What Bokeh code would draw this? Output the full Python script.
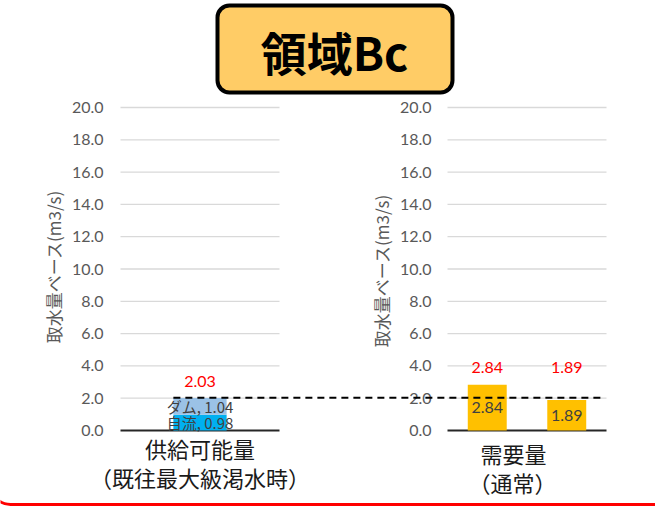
import numpy as np
from bokeh.plotting import figure
from bokeh.models import Range1d, BoxAnnotation
from bokeh.core.properties import value
from bokeh.embed import file_html
from bokeh.resources import INLINE

# ---------------- data ----------------
title_text = "領域Bc"
y_axis_title = "取水量ベース(m3/s)"
y_ticks = [0.0, 2.0, 4.0, 6.0, 8.0, 10.0, 12.0, 14.0, 16.0, 18.0, 20.0]
y_tick_labels = ["0.0", "2.0", "4.0", "6.0", "8.0", "10.0", "12.0", "14.0", "16.0", "18.0", "20.0"]

supply_category = ["供給可能量", "（既往最大級渇水時）"]
supply_series = ["自流", "ダム"]
supply_values = [0.98, 1.04]
supply_total = [2.03]

demand_category = ["需要量", "（通常）"]
demand_values = [2.84, 1.89]

# ---------------- layout (window pixel geometry) ----------------
W, H = 655, 506
OFF = 0
PX_ZERO = 430.0
PX_PER_UNIT = 16.15


def yv(py):
    """window pixel row -> value units"""
    return (PX_ZERO - py) / PX_PER_UNIT


LEFT_AREA = (120, 279)
RIGHT_AREA = (447, 606)
LEFT_TICK_X, RIGHT_TICK_X = 103, 431
LEFT_TITLE_X, RIGHT_TITLE_X = 53, 381

GRID_COLOR = "#D9D9D9"
TICK_COLOR = "#595959"
LABEL_COLOR = "#404040"
NUM_FONT = value("Lato")
JP_FONT = value("Noto Sans CJK JP")

p = figure(width=W, height=H,
           x_range=Range1d(OFF, OFF + W),
           y_range=Range1d(yv(OFF + H), yv(OFF)),
           output_backend="svg", toolbar_location=None,
           x_axis_location=None, y_axis_location=None,
           min_border=0, outline_line_color=None,
           background_fill_color="white", border_fill_color="white")
p.xgrid.visible = False
p.ygrid.visible = False

# ---------------- title box (underlay so the text sits on top) ----------------
p.add_layout(BoxAnnotation(left=217, right=452, top=yv(5), bottom=yv(92),
                           fill_color="#FFCC66", fill_alpha=1.0,
                           line_color="black", line_alpha=1.0, line_width=4,
                           border_radius=12, level="underlay"))
p.text(x=[334], y=[yv(50)], text=[title_text],
       text_align="center", text_baseline="middle",
       text_font=JP_FONT, text_font_style="bold",
       text_font_size=value("46px"), text_color="black")


def draw_value_axis(area, tick_x, title_x, title_py):
    a, b = area
    g = y_ticks[1:]
    p.segment(x0=[a] * len(g), x1=[b] * len(g), y0=g, y1=g,
              line_color=GRID_COLOR, line_width=1.3)
    p.segment(x0=[a], x1=[b], y0=[y_ticks[0]], y1=[y_ticks[0]],
              line_color="#262626", line_width=2)
    p.text(x=[tick_x] * len(y_ticks), y=y_ticks, text=y_tick_labels,
           text_align="right", text_baseline="middle",
           text_font=NUM_FONT, text_font_size=value("16px"), text_color=TICK_COLOR)
    p.text(x=[title_x], y=[yv(title_py)], text=[y_axis_title], angle=np.pi / 2,
           text_align="center", text_baseline="middle",
           text_font=JP_FONT, text_font_size=value("17px"), text_color=TICK_COLOR)


draw_value_axis(LEFT_AREA, LEFT_TICK_X, LEFT_TITLE_X, 266)
draw_value_axis(RIGHT_AREA, RIGHT_TICK_X, RIGHT_TITLE_X, 270)

# ---------------- left chart: supply (stacked) ----------------
la, lb = LEFT_AREA
left_center = (la + lb) / 2
left_bar_w = (lb - la) * 0.335
supply_colors = ["#00B0F0", "#9BC2E6"]
bottom = 0.0
for name, v, c in zip(supply_series, supply_values, supply_colors):
    p.vbar(x=[left_center], width=left_bar_w, bottom=[bottom], top=[bottom + v],
           fill_color=c, line_color=None)
    p.text(x=[left_center], y=[bottom + v / 2], text=[f"{name}, {v:.2f}"],
           text_align="center", text_baseline="middle",
           text_font=JP_FONT, text_font_size=value("15px"), text_color=LABEL_COLOR)
    bottom += v

p.text(x=[left_center], y=[yv(381)], text=[f"{supply_total[0]:.2f}"],
       text_align="center", text_baseline="middle",
       text_font=NUM_FONT, text_font_size=value("16px"), text_color="#FF0000")

# ---------------- right chart: demand ----------------
ra, rb = RIGHT_AREA
slot = (rb - ra) / len(demand_values)
demand_x = [ra + slot * (i + 0.5) for i in range(len(demand_values))]
demand_bar_w = slot * 0.49
p.vbar(x=demand_x, width=demand_bar_w, bottom=0, top=demand_values,
       fill_color="#FFC000", line_color=None)
p.text(x=demand_x, y=[v / 2 for v in demand_values],
       text=[f"{v:.2f}" for v in demand_values],
       text_align="center", text_baseline="middle",
       text_font=NUM_FONT, text_font_size=value("16px"), text_color=LABEL_COLOR)
p.text(x=demand_x, y=[yv(367)] * len(demand_values),
       text=[f"{v:.2f}" for v in demand_values],
       text_align="center", text_baseline="middle",
       text_font=NUM_FONT, text_font_size=value("16px"), text_color="#FF0000")

# ---------------- supply reference line ----------------
p.segment(x0=[left_center - left_bar_w / 2], x1=[600], y0=supply_total, y1=supply_total,
          line_color="black", line_width=2, line_dash="7 5")

# ---------------- category labels ----------------
p.text(x=[left_center, left_center], y=[yv(447), yv(476)], text=supply_category,
       text_align="center", text_baseline="middle",
       text_font=JP_FONT, text_font_size=value("22px"), text_color="#1A1A1A")
p.text(x=[513, 512], y=[yv(452), yv(481)], text=demand_category,
       text_align="center", text_baseline="middle",
       text_font=JP_FONT, text_font_size=value("22px"), text_color="#1A1A1A")

# ---------------- outer red frame (bottom edge visible) ----------------
p.add_layout(BoxAnnotation(left=-10, right=720, top=yv(-100), bottom=yv(H - 2),
                           fill_alpha=0, line_color="#FF0000", line_alpha=1.0,
                           line_width=3, border_radius=20))

open("out.html", "w").write(file_html(p, INLINE))
